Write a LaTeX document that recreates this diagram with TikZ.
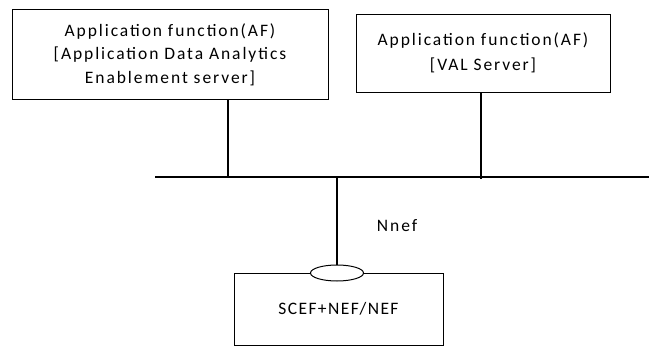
\documentclass[tikz,border=0pt]{standalone}
\usepackage{fontspec}
\setmainfont{Carlito}[LetterSpace=11]
\newfontfamily\tightfont{Carlito}[LetterSpace=8]
\usetikzlibrary{shapes.geometric}

\tikzset{
    afbox/.style={draw, line width=0.6pt, inner sep=0pt, align=center,
        font=\fontsize{17.5}{23.5}\selectfont},
    link/.style={line width=1.3pt}
}

\begin{document}
\begin{tikzpicture}[x=1pt, y=1pt]
            \useasboundingbox (0,0) rectangle (650,-347);
            % application functions
            \node [afbox, minimum width=316, minimum height=90] (adaes) at (170,-54.5)
                {Application function(AF)\\{}[Application Data Analytics\\Enablement server]};
            \node [afbox, minimum width=254, minimum height=78, font=\fontsize{17.5}{25.5}\selectfont]
                (val) at (483,-53) {Application function(AF)\\{}[VAL Server]};
            % exposure function
            \node [afbox, minimum width=209, minimum height=72, font=\tightfont\fontsize{17.5}{20}\selectfont]
                (nef) at (338.5,-309) {SCEF+NEF/NEF};
            \node [draw, ellipse, line width=1pt, fill=white, minimum width=53,
                minimum height=16, inner sep=0pt] (port) at (337,-273) {};
            % bus
            \coordinate (busL) at (155,-177);
            \coordinate (busR) at (649,-177);
            \coordinate (tapA) at (228,-177);
            \coordinate (tapB) at (481,-179.5);
            \coordinate (tapN) at (337,-177);
            \draw [link] (busL) -- (busR);
            \draw [link] (tapA |- adaes.south) -- (tapA);
            \draw [link] (tapB |- val.south) -- (tapB);
            \draw [link] (tapN) -- (port.north)
                node[pos=0.55, anchor=west, xshift=36, font=\fontsize{17.5}{20}\selectfont]{Nnef};
        \end{tikzpicture}
\end{document}
